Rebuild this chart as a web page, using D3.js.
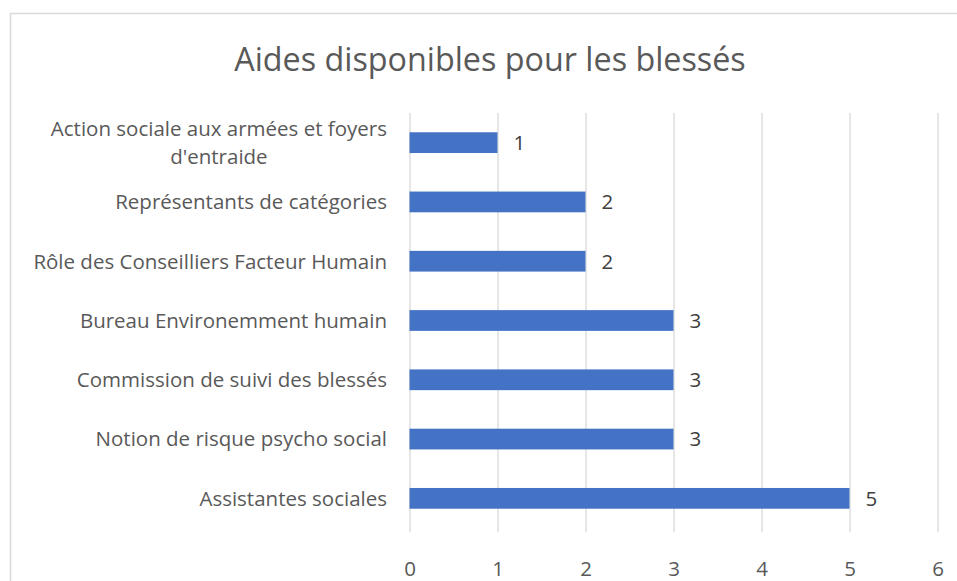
<!DOCTYPE html>
<html><head><meta charset="utf-8">
<script src="https://cdn.jsdelivr.net/npm/d3@7"></script>
<style>body{margin:0;background:#fff}svg{display:block}</style>
</head><body>
<svg id="c" width="957" height="581"></svg>
<script>
const title = "Aides disponibles pour les blessés";
const categories = [
  ["Action sociale aux armées et foyers", "d'entraide"],
  ["Représentants de catégories"],
  ["Rôle des Conseilliers Facteur Humain"],
  ["Bureau Environemment humain"],
  ["Commission de suivi des blessés"],
  ["Notion de risque psycho social"],
  ["Assistantes sociales"]
];
const values = [1, 2, 2, 3, 3, 3, 5];
const xTicks = [0, 1, 2, 3, 4, 5, 6];

const svg = d3.select("#c");
const font = "'Open Sans', 'Noto Sans', sans-serif";
const fs = 20.5;
svg.append("rect").attr("x", 10.5).attr("y", 13.5).attr("width", 1000).attr("height", 1000)
  .attr("fill", "#fff").attr("stroke", "#d9d9d9").attr("stroke-width", 1.5);

const x = d3.scaleLinear().domain([0, 6]).range([409.5, 937.5]);
const idx = categories.map((d, i) => i);
const y = d3.scaleBand().domain(idx).range([113, 528]).paddingInner(0.65).paddingOuter(0.325);

svg.append("text").attr("x", 490).attr("y", 71).attr("text-anchor", "middle")
  .attr("font-family", font).attr("font-size", 32.3).attr("fill", "#595959").text(title);

// gridlines
const xAxis = d3.axisBottom(x).tickValues(xTicks).tickFormat(d3.format("d"))
  .tickSize(-(532 - 113)).tickPadding(29);
const gx = svg.append("g").attr("transform", "translate(0,532)").call(xAxis);
gx.select(".domain").remove();
gx.selectAll(".tick line").attr("stroke", "#d9d9d9").attr("stroke-width", 1.3);
gx.selectAll(".tick text").attr("font-family", font).attr("font-size", fs).attr("fill", "#595959");

// bars
svg.append("g").selectAll("rect").data(values).join("rect")
  .attr("x", x(0)).attr("y", (d, i) => y(i))
  .attr("width", d => x(d) - x(0)).attr("height", y.bandwidth())
  .attr("fill", "#4472c4");

// data labels
svg.append("g").selectAll("text").data(values).join("text")
  .attr("x", d => x(d) + 16).attr("y", (d, i) => y(i) + y.bandwidth() / 2)
  .attr("dy", "0.36em").attr("font-family", font).attr("font-size", fs).attr("fill", "#404040")
  .text(d => d);

// category labels
const lab = svg.append("g");
categories.forEach((lines, i) => {
  const cy = y(i) + y.bandwidth() / 2;
  const lh = 28;
  if (lines.length === 1) {
    lab.append("text").attr("x", 387).attr("y", cy).attr("dy", "0.36em")
      .attr("text-anchor", "end").attr("font-family", font).attr("font-size", fs)
      .attr("fill", "#595959").text(lines[0]);
  } else {
    const t = lab.append("text").attr("x", 387).attr("y", cy - lh / 2).attr("dy", "0.36em")
      .attr("text-anchor", "end").attr("font-family", font).attr("font-size", fs)
      .attr("fill", "#595959").text(lines[0]);
    const w = t.node().getComputedTextLength();
    lab.append("text").attr("x", 387 - w / 2).attr("y", cy + lh / 2).attr("dy", "0.36em")
      .attr("text-anchor", "middle").attr("font-family", font).attr("font-size", fs)
      .attr("fill", "#595959").text(lines[1]);
  }
});
</script>
</body></html>
